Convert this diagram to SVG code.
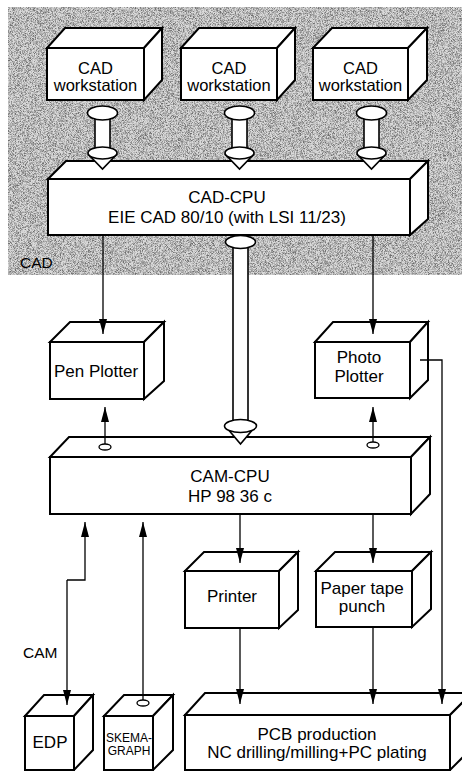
<svg xmlns="http://www.w3.org/2000/svg" width="462" height="771" viewBox="0 0 462 771">
<style>
.box polygon,.box rect{fill:#fff;stroke:#000;stroke-width:2;stroke-linejoin:miter}
text{font-family:"Liberation Sans",Arial,sans-serif;font-size:17px;fill:#000;text-anchor:middle}
.ws{font-size:16.5px}
.lbl{text-anchor:start;font-size:15.5px}
.sm{font-size:12px}
.ln{fill:none;stroke:#000;stroke-width:1.3}
.bar{fill:#fff;stroke:none}
.bl{stroke:#000;stroke-width:1.6;fill:none}
.el{fill:#fff;stroke:#000;stroke-width:1.6}
.dot{fill:#fff;stroke:#000;stroke-width:1.3}
</style>
<defs>
<marker id="ah" markerUnits="userSpaceOnUse" markerWidth="15" markerHeight="8" refX="15" refY="4" orient="auto">
<path d="M0,0 L15,4 L0,8 z" fill="#000"/>
</marker>
<filter id="grain" x="0" y="0" width="100%" height="100%" color-interpolation-filters="sRGB">
<feTurbulence type="fractalNoise" baseFrequency="1.4" numOctaves="1" seed="4" result="n"/>
<feColorMatrix in="n" type="matrix" values="0 0 0 0 0  0 0 0 0 0  0 0 0 0 0  3 0 0 0 -1.2" result="a"/>
<feComposite in="a" in2="SourceGraphic" operator="in"/>
</filter>
</defs>

<g id="cad-area">
<rect x="8" y="7" width="454" height="268" fill="#dadada"/>
<rect x="8" y="7" width="454" height="268" fill="#000" opacity="0.5" filter="url(#grain)"/>
<text class="lbl" x="20" y="268">CAD</text>
</g>
<text class="lbl" x="23" y="658">CAM</text>

<g id="ws1" class="box">
<rect x="47" y="48" width="97" height="52"/>
<polygon points="47,48 65,28 162,28 144,48"/>
<polygon points="144,48 162,28 162,80 144,100"/>
<text class="ws" x="95.5" y="74">CAD</text><text class="ws" x="95.5" y="91">workstation</text>
</g>
<g id="ws2" class="box">
<rect x="181" y="48" width="96" height="52"/>
<polygon points="181,48 199,28 295,28 277,48"/>
<polygon points="277,48 295,28 295,80 277,100"/>
<text class="ws" x="229" y="74">CAD</text><text class="ws" x="229" y="91">workstation</text>
</g>
<g id="ws3" class="box">
<rect x="313" y="48" width="95" height="52"/>
<polygon points="313,48 332,28 427,28 408,48"/>
<polygon points="408,48 427,28 427,80 408,100"/>
<text class="ws" x="360.5" y="74">CAD</text><text class="ws" x="360.5" y="91">workstation</text>
</g>
<g id="cad-cpu" class="box">
<polygon points="48,179 66,161 428,161 410,179"/>
<polygon points="410,179 428,161 428,219 410,235"/>
<rect x="48" y="179" width="362" height="56"/>
<text x="227" y="203">CAD-CPU</text>
<text x="227" y="223">EIE CAD 80/10 (with LSI 11/23)</text>
</g>
<g id="pen-plotter" class="box">
<rect x="50" y="342" width="94" height="57"/>
<polygon points="50,342 70,322 164,322 144,342"/>
<polygon points="144,342 164,322 164,381 144,399"/>
<text x="96" y="377">Pen Plotter</text>
</g>
<g id="photo-plotter" class="box">
<rect x="315" y="342" width="95" height="56"/>
<polygon points="315,342 333,322 428,322 410,342"/>
<polygon points="410,342 428,322 428,380 410,398"/>
<text x="359" y="363">Photo</text><text x="359" y="382">Plotter</text>
</g>
<g id="cam-cpu" class="box">
<polygon points="50,457 69,437 430,437 411,457"/>
<polygon points="411,457 430,437 430,494 411,514"/>
<rect x="50" y="457" width="361" height="57"/>
<text x="230" y="482">CAM-CPU</text>
<text x="230" y="502">HP 98 36 c</text>
</g>
<g id="printer" class="box">
<rect x="185" y="571" width="94" height="57"/>
<polygon points="185,571 204,552 298,552 279,571"/>
<polygon points="279,571 298,552 298,610 279,628"/>
<text x="232" y="602">Printer</text>
</g>
<g id="paper-tape" class="box">
<rect x="316" y="571" width="96" height="56"/>
<polygon points="316,571 335,552 431,552 412,571"/>
<polygon points="412,571 431,552 431,609 412,627"/>
<text x="362" y="594">Paper tape</text><text x="362" y="612">punch</text>
</g>
<g id="edp" class="box">
<rect x="25" y="716" width="49" height="54"/>
<polygon points="25,716 44,695 93,695 74,716"/>
<polygon points="74,716 93,695 93,750 74,770"/>
<text x="50" y="748">EDP</text>
</g>
<g id="skemagraph" class="box">
<rect x="104" y="716" width="49" height="54"/>
<polygon points="104,716 124,695 173,695 153,716"/>
<polygon points="153,716 173,695 173,750 153,770"/>
<text class="sm" x="129" y="742">SKEMA-</text><text class="sm" x="129" y="755">GRAPH</text>
</g>
<g id="pcb" class="box">
<rect x="185" y="715" width="265" height="55"/>
<polygon points="185,715 205,693 472,693 450,715"/>
<polygon points="450,715 472,693 472,748 450,770"/>
<text x="317" y="740">PCB production</text>
<text x="317" y="758">NC drilling/milling+PC plating</text>
</g>

<g id="connectors">
<g id="bus1">
<rect class="bar" x="95" y="113" width="15" height="40"/>
<line class="bl" x1="95" y1="113" x2="95" y2="153"/><line class="bl" x1="110" y1="113" x2="110" y2="153"/>
<ellipse class="el" cx="102.5" cy="113" rx="15" ry="7"/>
<polygon class="el" points="89,155 116,155 102.5,169"/>
<ellipse class="el" cx="102.5" cy="153" rx="14.5" ry="6"/>
</g>
<g id="bus2">
<rect class="bar" x="232" y="113" width="15" height="40"/>
<line class="bl" x1="232" y1="113" x2="232" y2="153"/><line class="bl" x1="247" y1="113" x2="247" y2="153"/>
<ellipse class="el" cx="239.5" cy="113" rx="15" ry="7"/>
<polygon class="el" points="226,155 253,155 239.5,169"/>
<ellipse class="el" cx="239.5" cy="153" rx="14.5" ry="6"/>
</g>
<g id="bus3">
<rect class="bar" x="364" y="113" width="15" height="40"/>
<line class="bl" x1="364" y1="113" x2="364" y2="153"/><line class="bl" x1="379" y1="113" x2="379" y2="153"/>
<ellipse class="el" cx="371.5" cy="113" rx="15" ry="7"/>
<polygon class="el" points="358,155 385,155 371.5,169"/>
<ellipse class="el" cx="371.5" cy="153" rx="14.5" ry="6"/>
</g>
<g id="bus4">
<rect class="bar" x="233" y="242" width="15" height="184"/>
<line class="bl" x1="233" y1="242" x2="233" y2="426"/><line class="bl" x1="248" y1="242" x2="248" y2="426"/>
<ellipse class="el" cx="240.5" cy="242" rx="15" ry="6.5"/>
<polygon class="el" points="227,428 254,428 240.5,444"/>
<ellipse class="el" cx="240.5" cy="426" rx="16" ry="6.5"/>
</g>
<line class="ln" x1="103" y1="236" x2="103" y2="334" marker-end="url(#ah)"/>
<line class="ln" x1="373" y1="236" x2="373" y2="334" marker-end="url(#ah)"/>
<line class="ln" x1="105" y1="444" x2="105" y2="407" marker-end="url(#ah)"/>
<ellipse class="dot" cx="105" cy="447" rx="6" ry="3"/>
<line class="ln" x1="373" y1="442" x2="373" y2="407" marker-end="url(#ah)"/>
<ellipse class="dot" cx="373" cy="445" rx="6" ry="3"/>
<line class="ln" x1="240" y1="515" x2="240" y2="563" marker-end="url(#ah)"/>
<line class="ln" x1="373" y1="515" x2="373" y2="563" marker-end="url(#ah)"/>
<path class="ln" d="M67,580 L85,580 L85,522" marker-end="url(#ah)"/>
<path class="ln" d="M67,580 L67,705" marker-end="url(#ah)"/>
<line class="ln" x1="143" y1="700" x2="143" y2="522" marker-end="url(#ah)"/>
<ellipse class="dot" cx="143" cy="703" rx="6" ry="3"/>
<line class="ln" x1="240" y1="629" x2="240" y2="704" marker-end="url(#ah)"/>
<line class="ln" x1="373" y1="628" x2="373" y2="704" marker-end="url(#ah)"/>
<path class="ln" d="M420,360 L442,360 L442,704" marker-end="url(#ah)"/>
</g>
</svg>
